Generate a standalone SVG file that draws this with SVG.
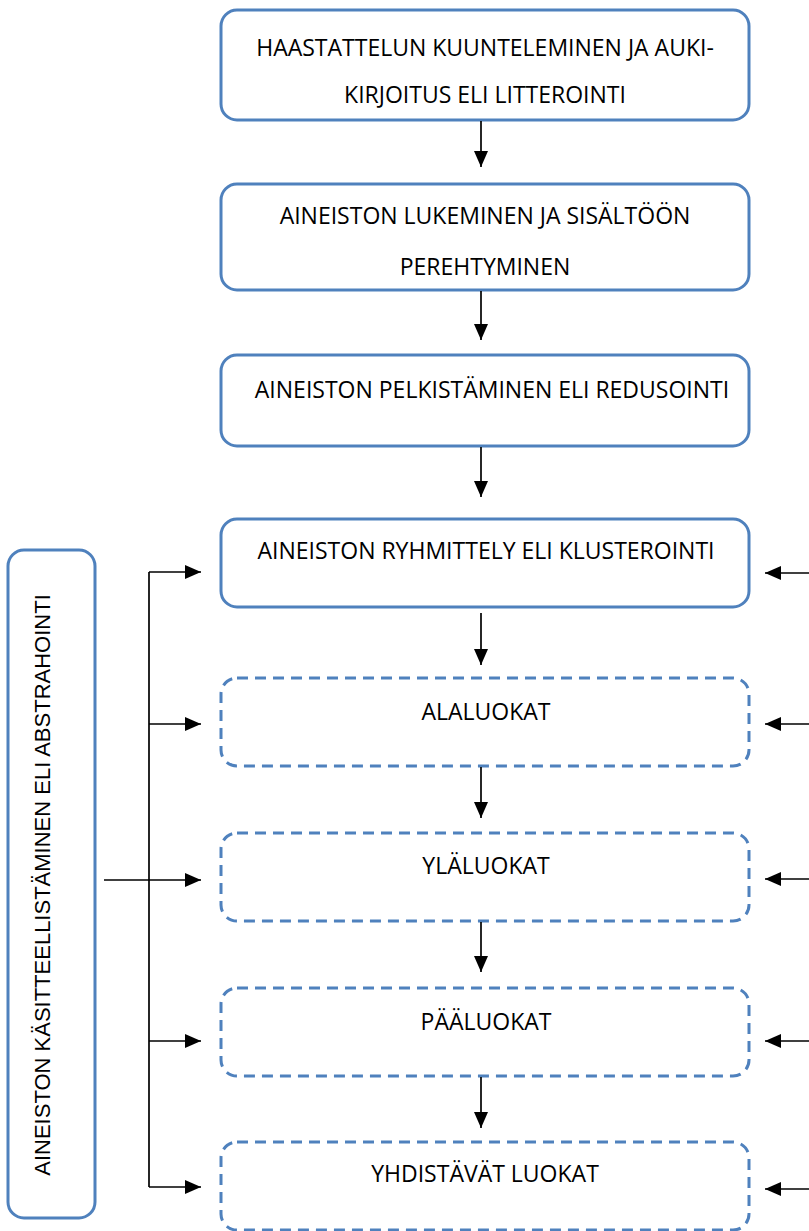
<svg xmlns="http://www.w3.org/2000/svg" width="809" height="1231" viewBox="0 0 809 1231">
<style>
.box{fill:#fff;stroke:#4F81BD;stroke-width:3}
.dash{stroke-dasharray:11 7}
.t{font-family:"Open Sans","Liberation Sans",sans-serif;font-size:23px;fill:#000;text-anchor:middle}
.lt{font-family:"Liberation Sans",Arial,sans-serif;font-size:22px;fill:#000;text-anchor:middle}
.c{stroke:#000;stroke-width:1.7;fill:none}
</style>
<defs>
<marker id="ah" viewBox="0 0 16 14" refX="16" refY="7" markerWidth="16" markerHeight="14" markerUnits="userSpaceOnUse" orient="auto">
<path d="M0,0 L16,7 L0,14 Z" fill="#000"/>
</marker>
</defs>
<g id="n1"><rect class="box" x="221" y="10" width="528" height="110" rx="16"/>
<text class="t" x="485" y="56">HAASTATTELUN KUUNTELEMINEN JA AUKI-</text>
<text class="t" x="485" y="103">KIRJOITUS ELI LITTEROINTI</text></g>
<g id="n2"><rect class="box" x="221" y="184" width="528" height="106" rx="16"/>
<text class="t" x="485" y="224">AINEISTON LUKEMINEN JA SISÄLTÖÖN</text>
<text class="t" x="485" y="275">PEREHTYMINEN</text></g>
<g id="n3"><rect class="box" x="221" y="355" width="528" height="91" rx="16"/>
<text class="t" x="492" y="398">AINEISTON PELKISTÄMINEN ELI REDUSOINTI</text></g>
<g id="n4"><rect class="box" x="221" y="519" width="528" height="88" rx="16"/>
<text class="t" x="486" y="559">AINEISTON RYHMITTELY ELI KLUSTEROINTI</text></g>
<g id="n5"><rect class="box dash" x="221" y="678" width="528" height="88" rx="16"/>
<text class="t" x="486" y="720">ALALUOKAT</text></g>
<g id="n6"><rect class="box dash" x="221" y="833" width="528" height="88" rx="16"/>
<text class="t" x="486" y="874">YLÄLUOKAT</text></g>
<g id="n7"><rect class="box dash" x="221" y="988" width="528" height="88" rx="16"/>
<text class="t" x="486" y="1030">PÄÄLUOKAT</text></g>
<g id="n8"><rect class="box dash" x="221" y="1142" width="528" height="88" rx="16"/>
<text class="t" x="485" y="1182">YHDISTÄVÄT LUOKAT</text></g>
<g id="n9"><rect class="box" x="8" y="550" width="87" height="668" rx="16"/>
<text class="lt" transform="translate(50,885) rotate(-90)">AINEISTON KÄSITTEELLISTÄMINEN ELI ABSTRAHOINTI</text></g>
<g id="connectors">
<line class="c" x1="481" y1="121" x2="481" y2="167" marker-end="url(#ah)"/>
<line class="c" x1="481" y1="291" x2="481" y2="340" marker-end="url(#ah)"/>
<line class="c" x1="481" y1="447" x2="481" y2="497" marker-end="url(#ah)"/>
<line class="c" x1="481" y1="613" x2="481" y2="665" marker-end="url(#ah)"/>
<line class="c" x1="481" y1="767" x2="481" y2="818" marker-end="url(#ah)"/>
<line class="c" x1="481" y1="922" x2="481" y2="972" marker-end="url(#ah)"/>
<line class="c" x1="481" y1="1077" x2="481" y2="1128" marker-end="url(#ah)"/>
<line class="c" x1="149" y1="572" x2="149" y2="1187"/>
<line class="c" x1="149" y1="572" x2="201" y2="572" marker-end="url(#ah)"/>
<line class="c" x1="149" y1="724" x2="201" y2="724" marker-end="url(#ah)"/>
<line class="c" x1="104" y1="880" x2="201" y2="880" marker-end="url(#ah)"/>
<line class="c" x1="149" y1="1041" x2="201" y2="1041" marker-end="url(#ah)"/>
<line class="c" x1="149" y1="1187" x2="201" y2="1187" marker-end="url(#ah)"/>
<line class="c" x1="809" y1="573" x2="765" y2="573" marker-end="url(#ah)"/>
<line class="c" x1="809" y1="724" x2="765" y2="724" marker-end="url(#ah)"/>
<line class="c" x1="809" y1="879" x2="765" y2="879" marker-end="url(#ah)"/>
<line class="c" x1="809" y1="1041" x2="765" y2="1041" marker-end="url(#ah)"/>
<line class="c" x1="809" y1="1189" x2="765" y2="1189" marker-end="url(#ah)"/>
</g>
</svg>
